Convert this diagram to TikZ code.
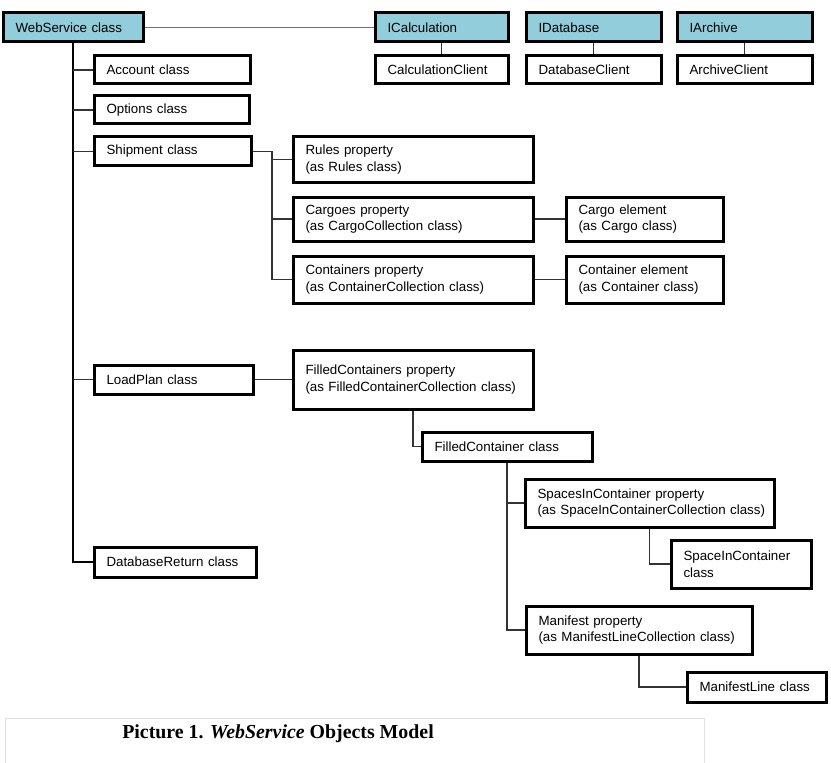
\documentclass[tikz,border=0pt]{standalone}
\usepackage{fontspec}
\setmainfont{Liberation Serif}
\setsansfont{Liberation Sans}
\usetikzlibrary{calc}
\definecolor{ifaceblue}{RGB}{146,205,220}

\begin{document}
\begin{tikzpicture}[
    x=0.75pt, y=-0.75pt,
    cls/.style 2 args={draw, line width=2.25pt, anchor=north west, xshift=1.125pt, yshift=-1.125pt, align=left, inner xsep=9.375pt, inner ysep=0pt, text width={(#1-28)*0.75pt}, minimum height={(#2-3)*0.75pt}, font=\sffamily\fontsize{10}{12.4}\selectfont},
    iface/.style 2 args={cls={#1}{#2}, fill=ifaceblue},
    link/.style={draw=black!80, line width=1pt},
    trunk/.style={draw=black, line width=1.4pt}
    ]

    \useasboundingbox (0,0) rectangle (831,763);

    % Root and interfaces
    \node[iface={143}{32}] (ws) at (0,10) {WebService class};
    \node[iface={136}{32}] (ical) at (372,10) {ICalculation};
    \node[iface={138}{32}] (idb) at (523,10) {IDatabase};
    \node[iface={138}{32}] (iarc) at (674,10) {IArchive};

    % Clients
    \node[cls={136}{31}] (calc) at (372,53) {CalculationClient};
    \node[cls={138}{31}] (dbc) at (523,53) {DatabaseClient};
    \node[cls={138}{31}] (arc) at (674,53) {ArchiveClient};

    % Classes on the main trunk
    \node[cls={159}{31}] (acc) at (91,53) {Account class};
    \node[cls={158}{31}] (opt) at (91,93) {Options class};
    \node[cls={160}{32}] (ship) at (91,134) {Shipment class};
    \node[cls={162}{32}] (lp) at (91,362) {LoadPlan class};
    \node[cls={165}{33}] (dbr) at (91,544) {DatabaseReturn class};

    % Shipment properties
    \node[cls={243}{48}] (rules) at (290,134) {Rules property\\(as Rules class)};
    \node[cls={243}{47}] (cgs) at (290,194) {Cargoes property\\(as CargoCollection class)};
    \node[cls={243}{50}] (cnts) at (290,253) {Containers property\\(as ContainerCollection class)};
    \node[cls={160}{47}] (cg) at (563,194) {Cargo element\\(as Cargo class)};
    \node[cls={160}{50}] (cnt) at (563,253) {Container element\\(as Container class)};

    % LoadPlan properties
    \node[cls={243}{62}] (fcs) at (290,347) {FilledContainers property\\(as FilledContainerCollection class)};
    \node[cls={173}{32}] (fc) at (419,429) {FilledContainer class};
    \node[cls={252}{51}] (spc) at (522,476) {SpacesInContainer property\\\mbox{(as SpaceInContainerCollection class)}};
    \node[cls={143}{51}] (sic) at (668,537) {SpaceInContainer\\class};
    \node[cls={229}{51}] (man) at (523,603) {Manifest property\\(as ManifestLineCollection class)};
    \node[cls={142}{33}] (ml) at (684,669) {ManifestLine class};

    % Root to interfaces and clients
    \draw[link, draw=black!55] (ws.east) -- (ical.west);
    \draw[link] (ical.south) -- (calc.north);
    \draw[link] (idb.south) -- (dbc.north);
    \draw[link] (iarc.south) -- (arc.north);

    % Main trunk
    \draw[trunk] (ws.south) |- (dbr.west);
    \foreach \n in {acc, opt, ship, lp} {
        \draw[link] (ws.south |- \n.west) -- (\n.west);
    }

    % Shipment branch
    \coordinate (shipbus) at ($(ship.east)!0.5!(ship.east -| rules.west)$);
    \draw[link] (ship.east) -- (shipbus) |- (cnts.west);
    \draw[link] (shipbus |- rules.west) -- (rules.west);
    \draw[link] (shipbus |- cgs.west) -- (cgs.west);
    \draw[link] (cgs.east) -- (cg.west);
    \draw[link] (cnts.east) -- (cnt.west);

    % LoadPlan branch
    \draw[link] (lp.east) -- (fcs.west);
    \draw[link] (fcs.south) |- (fc.west);
    \draw[link] (fc.south) |- (man.west);
    \draw[link] (fc.south |- spc.west) -- (spc.west);
    \draw[link] (spc.south) |- (sic.west);
    \draw[link] (man.south) |- (ml.west);

    % Caption
    \node[draw=black!12, line width=0.75pt, anchor=north west, minimum width=524pt, minimum height=46pt] (capframe) at (5,718) {};
    \node[anchor=base west, inner sep=0pt, font=\bfseries\fontsize{14.9}{17}\selectfont] (cap) at (122,738) {Picture 1. \textit{WebService} Objects Model};

\end{tikzpicture}
\end{document}
